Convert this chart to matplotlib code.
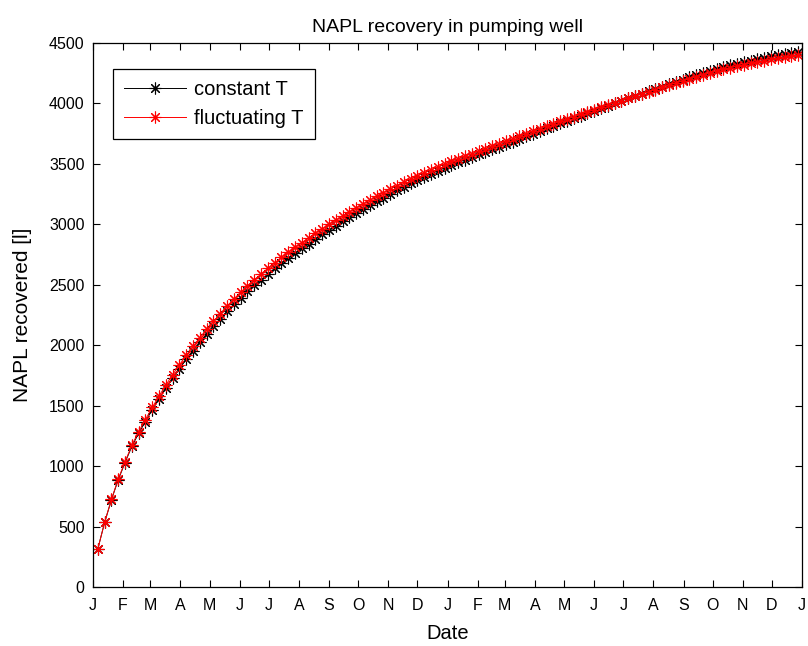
import pandas as pd
import matplotlib as mpl
mpl.use('Agg')
from matplotlib import pyplot as plt
import matplotlib.dates as mdates

plt.rcParams['font.family'] = ['Liberation Sans', 'DejaVu Sans']

# weekly samples over two years
dates = pd.date_range('2009-01-06', periods=104, freq='7D')

constant_T = [
    316, 535, 722, 888, 1029, 1163, 1271, 1369, 1466, 1558, 1645, 1728, 1807,
    1883, 1956, 2026, 2092, 2156, 2219, 2280, 2338, 2394, 2445, 2495, 2542,
    2589, 2635, 2678, 2720, 2761, 2801, 2841, 2879, 2916, 2953, 2988, 3024,
    3058, 3092, 3125, 3157, 3189, 3221, 3252, 3282, 3311, 3339, 3366, 3392,
    3417, 3442, 3466, 3489, 3512, 3534, 3556, 3578, 3600, 3621, 3642, 3663,
    3685, 3707, 3729, 3751, 3773, 3794, 3815, 3836, 3858, 3879, 3899, 3920,
    3940, 3961, 3981, 4002, 4022, 4042, 4061, 4081, 4100, 4120, 4139, 4159,
    4178, 4197, 4216, 4234, 4251, 4268, 4284, 4300, 4316, 4330, 4343, 4355,
    4367, 4378, 4389, 4400, 4410, 4420, 4429,
]

fluctuating_T = [
    316, 536, 725, 893, 1036, 1173, 1284, 1385, 1485, 1580, 1670, 1756, 1838,
    1916, 1991, 2063, 2131, 2197, 2261, 2323, 2382, 2439, 2491, 2541, 2589,
    2636, 2682, 2726, 2768, 2809, 2849, 2888, 2926, 2963, 2999, 3034, 3069,
    3103, 3136, 3168, 3200, 3231, 3262, 3292, 3321, 3349, 3376, 3402, 3427,
    3451, 3475, 3498, 3520, 3542, 3563, 3584, 3605, 3626, 3646, 3666, 3686,
    3707, 3728, 3749, 3770, 3791, 3811, 3831, 3851, 3871, 3891, 3910, 3929,
    3948, 3967, 3986, 4005, 4024, 4043, 4061, 4079, 4097, 4115, 4133, 4151,
    4169, 4187, 4204, 4221, 4237, 4252, 4267, 4282, 4297, 4310, 4322, 4333,
    4344, 4354, 4364, 4374, 4383, 4392, 4400,
]

asterisk = (8, 2, 0)

fig = plt.figure(figsize=(8.08, 6.46), dpi=100)
ax = fig.add_axes([93/808, 1-587/646, (802-93)/808, (587-43)/646])

ax.plot(dates, constant_T, color='k', marker=asterisk, markersize=8.5,
        linewidth=0.7, markeredgewidth=0.8, label='constant T')
ax.plot(dates, fluctuating_T, color='r', marker=asterisk, markersize=8.5,
        linewidth=0.7, markeredgewidth=0.8, label='fluctuating T')

ax.set_xlim(pd.Timestamp('2009-01-01'), pd.Timestamp('2011-01-01'))
ax.set_ylim(0, 4500)
ax.set_yticks(range(0, 4501, 500))

ax.xaxis.set_major_locator(mdates.MonthLocator())
ax.xaxis.set_major_formatter(
    plt.FuncFormatter(lambda v, pos: mdates.num2date(v).strftime('%b')[0]))

ax.tick_params(direction='in', top=True, right=True, length=5,
               labelsize=11.5, width=0.8)
ax.tick_params(axis='x', pad=8)
ax.tick_params(axis='y', pad=6)
for s in ax.spines.values():
    s.set_linewidth(0.9)

ax.set_title('NAPL recovery in pumping well', fontsize=14, pad=8)
ax.set_xlabel('Date', fontsize=14.5, labelpad=8)
ax.set_ylabel('NAPL recovered [l]', fontsize=15, labelpad=12)

leg = ax.legend(loc='upper left', bbox_to_anchor=(0.028, 0.953),
                fontsize=14.5, fancybox=False, framealpha=1,
                edgecolor='k', handlelength=3.1, handletextpad=0.4,
                borderpad=0.55, labelspacing=0.5, borderaxespad=0)
leg.get_frame().set_linewidth(0.9)

plt.savefig('out.png', dpi=100)
